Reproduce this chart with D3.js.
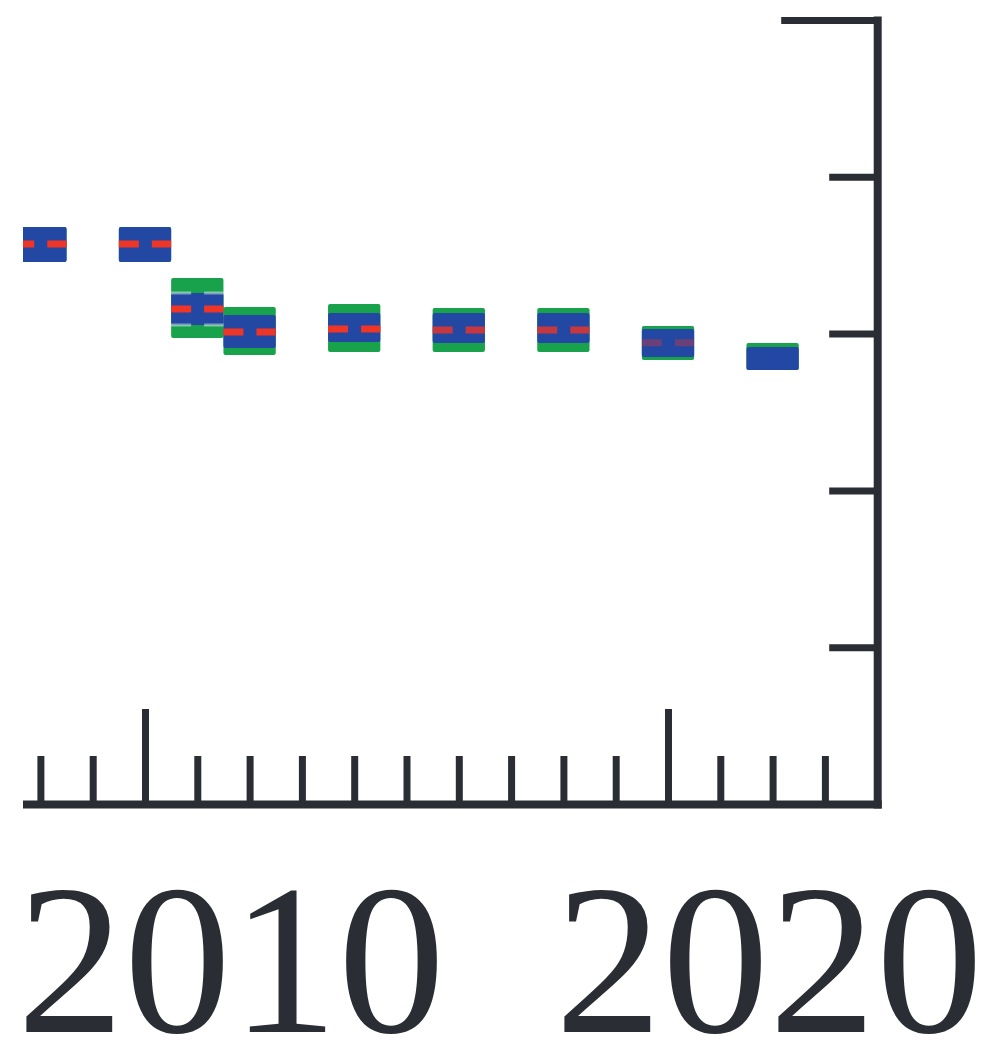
<!DOCTYPE html>
<html>
<head>
<meta charset="utf-8">
<script src="https://cdn.jsdelivr.net/npm/d3@7"></script>
<style>
  html, body { margin: 0; padding: 0; background: #ffffff; }
  svg { display: block; }
  .year-label { font-family: "Liberation Serif", Tinos, "Times New Roman", Times, serif; }
</style>
</head>
<body>
<svg id="chart" width="986" height="1045"></svg>
<script>
// Survey years shown in the panel
const years = [2008, 2010, 2011, 2012, 2014, 2016, 2018, 2020, 2022];

// Outer (green) interval
const outerHigh = [3.68, 3.68, 3.355, 3.170, 3.189, 3.163, 3.163, 3.048, 2.940];
const outerLow  = [3.457, 3.457, 2.972, 2.864, 2.883, 2.883, 2.883, 2.832, 2.768];

// Inner (blue) interval
const innerHigh = [3.68, 3.68, 3.259, 3.119, 3.131, 3.131, 3.131, 3.029, 2.915];
const innerLow  = [3.457, 3.457, 3.055, 2.908, 2.946, 2.940, 2.940, 2.851, 2.768];

// Central estimate (red dashed); none for the last year
const central = [3.571, 3.571, 3.157, 3.010, 3.029, 3.023, 3.023, 2.941, null];

// Axis ticks
const minorYears = d3.range(2007, 2024);
const majorYears = [2010, 2020];
const yMinorTicks = [1, 2, 3, 4];
const yMajorTicks = [0, 5];

const ink = "#2a2d34";
const green = "#17a24b";
const blue = "#2248a3";
const red = "#ef3526";

const svg = d3.select("#chart");

const x = d3.scaleLinear().domain([2007, 2024]).range([-11.9, 877.2]);
const y = d3.scaleLinear().domain([0, 5]).range([804, 20]);

const rows = years.map((yr, i) => ({
  year: yr,
  oh: outerHigh[i], ol: outerLow[i],
  ih: innerHigh[i], il: innerLow[i],
  c: central[i]
}));

// Visible plotting window
svg.append("defs").append("clipPath").attr("id", "panel")
  .append("rect").attr("x", 23).attr("y", 0).attr("width", 963).attr("height", 1045);

const g = svg.append("g").attr("clip-path", "url(#panel)");

const half = (x(2011) - x(2010)) / 2;

// Outer interval boxes
g.append("g").selectAll("rect").data(rows).join("rect")
  .attr("x", d => x(d.year) - half)
  .attr("width", half * 2)
  .attr("y", d => y(d.oh))
  .attr("height", d => y(d.ol) - y(d.oh))
  .attr("rx", 2)
  .attr("fill", green);

// Inner interval boxes
g.append("g").selectAll("rect").data(rows).join("rect")
  .attr("x", d => x(d.year) - half)
  .attr("width", half * 2)
  .attr("y", d => y(d.ih))
  .attr("height", d => y(d.il) - y(d.ih))
  .attr("rx", 2)
  .attr("fill", blue);

// Edge markers on the inner interval where it sits inside a wider outer band
const edged = rows.filter(d => d.year === 2011);
const edgeLines = [];
edged.forEach(d => { edgeLines.push({ year: d.year, v: d.ih }); edgeLines.push({ year: d.year, v: d.il }); });
g.append("g").selectAll("line").data(edgeLines).join("line")
  .attr("x1", d => x(d.year) - half)
  .attr("x2", d => x(d.year) + half)
  .attr("y1", d => y(d.v))
  .attr("y2", d => y(d.v))
  .attr("stroke", "#ffffff")
  .attr("stroke-opacity", 0.45)
  .attr("stroke-width", 3)
  .attr("stroke-dasharray", "20 13");

// Central estimate, dashed
const faded = { 2016: 0.8, 2018: 0.8, 2020: 0.35 };
g.append("g").selectAll("line").data(rows.filter(d => d.c != null)).join("line")
  .attr("x1", d => x(d.year) - half)
  .attr("x2", d => x(d.year) + half)
  .attr("y1", d => y(d.c))
  .attr("y2", d => y(d.c))
  .attr("stroke", red)
  .attr("stroke-opacity", d => faded[d.year] ?? 1)
  .attr("stroke-width", 7)
  .attr("stroke-dasharray", "20 13");

// Bottom axis: minor and major ticks pointing inward
const axisG = svg.append("g").attr("clip-path", "url(#panel)");

const minorX = axisG.append("g").attr("transform", `translate(0,${y(0)})`)
  .call(d3.axisBottom(x).tickValues(minorYears.filter(v => !majorYears.includes(v)))
    .tickSizeInner(-48).tickSizeOuter(0).tickFormat(""));
const majorX = axisG.append("g").attr("transform", `translate(0,${y(0)})`)
  .call(d3.axisBottom(x).tickValues(majorYears)
    .tickSizeInner(-95).tickSizeOuter(0).tickFormat(""));

// Right axis
const minorY = axisG.append("g").attr("transform", `translate(${x(2024)},0)`)
  .call(d3.axisRight(y).tickValues(yMinorTicks).tickSizeInner(-48).tickSizeOuter(0).tickFormat(""));
const majorY = axisG.append("g").attr("transform", `translate(${x(2024)},0)`)
  .call(d3.axisRight(y).tickValues(yMajorTicks).tickSizeInner(-96).tickSizeOuter(0).tickFormat(""));

[minorX, majorX, minorY, majorY].forEach(a => {
  a.selectAll(".tick line").attr("stroke", ink).attr("stroke-width", 7);
  a.select(".domain").attr("stroke", ink).attr("stroke-width", 8)
    .attr("stroke-linecap", "square").attr("fill", "none");
});
majorX.select(".domain").remove();
majorY.select(".domain").remove();

// Year labels
const labelShift = { 2010: 86, 2020: 101 };
svg.append("g").selectAll("text").data(majorYears).join("text")
  .attr("class", "year-label")
  .attr("x", d => x(d) + labelShift[d])
  .attr("y", 1032)
  .attr("text-anchor", "middle")
  .attr("font-size", 214)
  .attr("fill", ink)
  .text(d => d3.format("d")(d));
</script>
</body>
</html>
